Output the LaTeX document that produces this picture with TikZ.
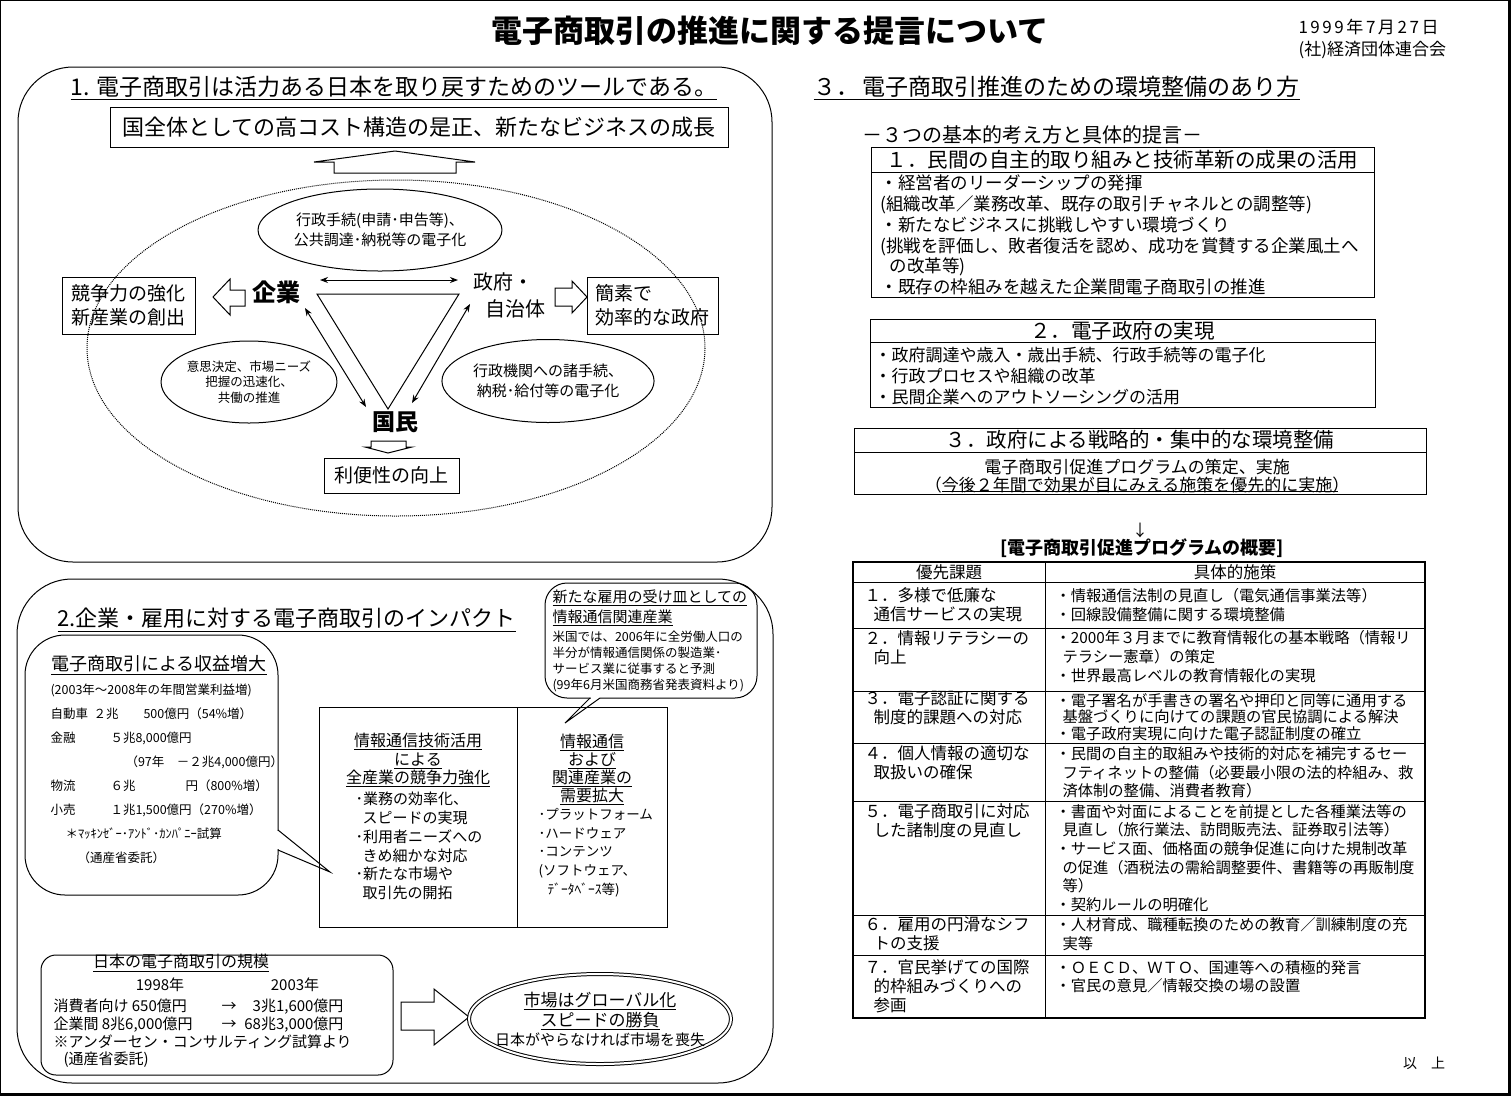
\documentclass[tikz,border=0pt]{standalone}
\usepackage{fontspec}
\setmainfont{Noto Sans CJK JP}
\usetikzlibrary{arrows.meta}
\usetikzlibrary{shapes.geometric}
\newcommand{\fsz}[2]{\fontsize{#1}{#2}\selectfont}
\newsavebox{\ulbox}
\newcommand{\ulin}[1]{\sbox{\ulbox}{#1}\rlap{\raisebox{-0.22em}{\rule{\wd\ulbox}{1pt}}}\usebox{\ulbox}}

\begin{document}
\begin{tikzpicture}[x=1pt, y=-1pt, line width=1pt, >={Stealth[length=8pt, width=6pt]},
    lbl/.style={inner sep=0pt, align=left},
    clbl/.style={inner sep=0pt, align=center},
    boxed/.style={draw, inner sep=0pt},
    oval/.style={ellipse, draw, inner sep=0pt, align=center},
    blockarrow/.style={draw, fill=white, line join=miter},
    lcell/.style={lbl, anchor=west, font=\fsz{16.5}{19}},
    rcell/.style={lbl, anchor=west, font=\fsz{15.3}{18.6}}]

    % Page frame
    \useasboundingbox (0,0) rectangle (1511,1096);
    \draw (0.5,0.5) rectangle (1508,1093);
    \fill (1508,0) rectangle (1511,1096);
    \fill (0,1093) rectangle (1511,1096);

    % Title and date
    \node[lbl, font=\fsz{31}{36}\bfseries] (title) at (770,31) {電子商取引の推進に関する提言について};
    \node[lbl, anchor=west, font=\fsz{17}{22}] (date) at (1298,39) {{\addfontfeature{LetterSpace=15}1999年7月27日}\\(社)経済団体連合会};

    % Section 1
    \draw[rounded corners=55pt] (18,67) rectangle (772,562);
    \node[lbl, anchor=west, font=\fsz{23}{28}] (h1) at (70,88) {\ulin{1. 電子商取引は活力ある日本を取り戻すためのツールである。}};
    \node[boxed, minimum width=618pt, minimum height=40pt, font=\fsz{22}{26}] (goal) at (419,127) {国全体としての高コスト構造の是正、新たなビジネスの成長};
    \draw[blockarrow] (334,173) -- (334,162) -- (314,162) -- (395,151) -- (475,162) -- (456,162) -- (456,173) -- cycle;

    \draw[densely dotted] (396,348) ellipse [x radius=309, y radius=168];
    \node[oval, minimum width=200pt, minimum height=82pt, font=\fsz{15}{20}] (proc) at (380,230) {行政手続(申請･申告等)、\\公共調達･納税等の電子化};

    \node[lbl, font=\fsz{24}{28}\bfseries] (corp) at (276,292) {企業};
    \node[lbl, anchor=west, font=\fsz{20}{27}] (gov) at (473,295) {政府・\\\hspace*{12pt}自治体};
    \node[lbl, font=\fsz{23}{28}\bfseries] (ppl) at (395,422) {国民};

    \draw (317,294) -- (459,294) -- (388,409) -- cycle;
    \coordinate (corpR) at (320,280);
    \coordinate (govL) at (458,280);
    \coordinate (corpB) at (305,308);
    \coordinate (pplL) at (366,407);
    \coordinate (govB) at (470,304);
    \coordinate (pplR) at (412,403);
    \draw[<->] (corpR) -- (govL);
    \draw[<->] (corpB) -- (pplL);
    \draw[<->] (govB) -- (pplR);

    \draw[blockarrow] (371,441) -- (406,441) -- (406,447) -- (412,447) -- (388,453) -- (365,447) -- (371,447) -- cycle;
    \node[boxed, minimum width=135pt, minimum height=35pt, font=\fsz{19}{23}] (conv) at (391.5,475.5) {利便性の向上};

    \node[boxed, minimum width=133pt, minimum height=57pt, font=\fsz{19}{24}, align=center] (comp) at (128.5,305.5) {競争力の強化\\新産業の創出};
    \draw[blockarrow] (245,290) -- (230,290) -- (230,279) -- (213,297) -- (230,315) -- (230,306) -- (245,306) -- cycle;
    \draw[blockarrow] (555,288) -- (572,288) -- (572,281) -- (587,297) -- (572,313) -- (572,306) -- (555,306) -- cycle;
    \node[boxed, minimum width=131pt, minimum height=57pt, text width=114pt, align=left, font=\fsz{19}{24}] (lean) at (652.5,305.5) {簡素で\\効率的な政府};

    \node[oval, minimum width=168pt, minimum height=82pt, font=\fsz{12.5}{15.5}] (speed) at (249,382) {意思決定、市場ニーズ\\把握の迅速化、\\共働の推進};
    \node[oval, minimum width=183pt, minimum height=83pt, font=\fsz{15}{20}] (admin) at (548,381) {行政機関への諸手続、\\納税･給付等の電子化};

    % Section 2
    \draw[rounded corners=55pt] (17,579) rectangle (773,1083);
    \node[lbl, anchor=west, font=\fsz{22}{26}] (h2) at (57,620) {\ulin{2.企業・雇用に対する電子商取引のインパクト}};

    % profit bubble
    \draw[rounded corners=40pt] (25,635) rectangle (278,895);
    \fill[white] (276,831) rectangle (280,849);
    \coordinate (gainTip) at (330,872);
    \draw (278,830) -- (gainTip) -- (278,850);
    \node[lbl, font=\fsz{18}{22}] (gainhd) at (159,665) {\ulin{電子商取引による収益増大}};
    \node[lbl, anchor=west, font=\fsz{12.5}{24}] (gaintxt) at (50,774) {(2003年～2008年の年間営業利益増)\\
        \makebox[43pt][l]{自動車}\makebox[50pt][l]{２兆}500億円（54\%増）\\
        \makebox[60pt][l]{金融}５兆8,000億円\\
        \hspace*{75pt}（97年　－２兆4,000億円）\\
        \makebox[60pt][l]{物流}\makebox[75pt][l]{６兆}円（800\%増）\\
        \makebox[60pt][l]{小売}１兆1,500億円（270\%増）\\
        \hspace*{15pt}＊ﾏｯｷﾝｾﾞｰ･ｱﾝﾄﾞ･ｶﾝﾊﾟﾆｰ試算\\
        \hspace*{27pt}（通産省委託）};

    % ICT box
    \node[boxed, minimum width=348pt, minimum height=220pt] (ict) at (493,817) {};
    \draw (517,707) -- (517,927);
    \node[clbl, font=\fsz{16}{18.5}] (icthd) at (418,760.5) {\ulin{情報通信技術活用}\\\ulin{による}\\\ulin{全産業の競争力強化}};
    \node[lbl, anchor=west, font=\fsz{15}{18.8}] (ictlist) at (355,846) {･業務の効率化、\\\hspace*{7pt}スピードの実現\\･利用者ニーズへの\\\hspace*{7pt}きめ細かな対応\\･新たな市場や\\\hspace*{7pt}取引先の開拓};
    \node[clbl, font=\fsz{16}{18.3}] (demhd) at (592,769.5) {\ulin{情報通信}\\\ulin{および}\\\ulin{関連産業の}\\\ulin{需要拡大}};
    \node[lbl, anchor=west, font=\fsz{13.5}{18.8}] (demlist) at (538,852.5) {･プラットフォーム\\･ハードウェア\\･コンテンツ\\(ソフトウェア、\\\hspace*{9pt}ﾃﾞｰﾀﾍﾞｰｽ等)};

    % jobs bubble
    \draw[rounded corners=22pt] (545,583) rectangle (757,698);
    \fill[white] (590.5,696.5) rectangle (599.5,699.5);
    \coordinate (jobTip) at (565,723);
    \draw (590,698) -- (jobTip) -- (600,698);
    \node[lbl, anchor=west, font=\fsz{15}{20}] (jobhd) at (552,608) {\ulin{新たな雇用の受け皿としての}\\\ulin{情報通信関連産業}};
    \node[lbl, anchor=west, font=\fsz{12.5}{16}] (jobtxt) at (552,661) {米国では、2006年に全労働人口の\\半分が情報通信関係の製造業･\\サービス業に従事すると予測\\(99年6月米国商務省発表資料より)};

    % market size
    \node[boxed, rounded corners=15pt, minimum width=352pt, minimum height=120pt] (ecsize) at (217,1015) {};
    \node[lbl, font=\fsz{16}{20}] (ecsizehd) at (181,963) {\ulin{日本の電子商取引の規模}};
    \node[lbl, font=\fsz{15}{18}] (y98) at (160,985) {1998年};
    \node[lbl, font=\fsz{15}{18}] (y03) at (295,985) {2003年};
    \node[lbl, anchor=west, font=\fsz{15}{17.7}] (ecsizetxt) at (53,1033.5) {\makebox[168pt][l]{消費者向け 650億円}→\makebox[107pt][r]{3兆1,600億円}\\
        \makebox[168pt][l]{企業間 8兆6,000億円}→\makebox[107pt][r]{68兆3,000億円}\\
        ※アンダーセン・コンサルティング試算より\\
        \hspace*{10pt}(通産省委託)};
    \draw[blockarrow] (401,1002) -- (434,1002) -- (434,989) -- (469,1017) -- (434,1045) -- (434,1030) -- (401,1030) -- cycle;
    \node[oval, double, double distance=2pt, minimum width=262pt, minimum height=90pt] (global) at (600,1019) {};
    \node[clbl, font=\fsz{17}{20.5}] (globaltxt) at (600,1011) {\ulin{市場はグローバル化}\\\ulin{スピードの勝負}};
    \node[clbl, font=\fsz{15}{18}] (losstxt) at (600,1040) {日本がやらなければ市場を喪失};

    % Section 3
    \node[lbl, anchor=west, font=\fsz{23}{28}] (h3) at (813,88) {\ulin{３．\hspace{3pt}電子商取引推進のための環境整備のあり方}};
    \node[lbl, anchor=west, font=\fsz{20}{24}] (sub3) at (862,135) {－３つの基本的考え方と具体的提言－};

    \node[boxed, minimum width=503pt, minimum height=150pt] (p1) at (1122.5,222) {};
    \draw (871,172) -- (1374,172);
    \node[lbl, font=\fsz{20.5}{24}] (p1hd) at (1122.5,160) {１．民間の自主的取り組みと技術革新の成果の活用};
    \node[lbl, anchor=west, font=\fsz{17.5}{20.8}] (p1txt) at (880,235) {・経営者のリーダーシップの発揮\\(組織改革／業務改革、既存の取引チャネルとの調整等)\\・新たなビジネスに挑戦しやすい環境づくり\\(挑戦を評価し、敗者復活を認め、成功を賞賛する企業風土へ\\\hspace*{9pt}の改革等)\\・既存の枠組みを越えた企業間電子商取引の推進};

    \node[boxed, minimum width=505pt, minimum height=88pt] (p2) at (1122.5,363) {};
    \draw (870,342) -- (1375,342);
    \node[lbl, font=\fsz{20.5}{24}] (p2hd) at (1122.5,331) {２．電子政府の実現};
    \node[lbl, anchor=west, font=\fsz{17}{21}] (p2txt) at (874,376) {・政府調達や歳入・歳出手続、行政手続等の電子化\\・行政プロセスや組織の改革\\・民間企業へのアウトソーシングの活用};

    \node[boxed, minimum width=572pt, minimum height=66pt] (p3) at (1140,461) {};
    \draw (854,452) -- (1426,452);
    \node[lbl, font=\fsz{20.5}{24}] (p3hd) at (1140,440) {３．政府による戦略的・集中的な環境整備};
    \node[clbl, font=\fsz{17}{18}] (p3txt) at (1137,476) {電子商取引促進プログラムの策定、実施\\（今後２年間で効果が目にみえる施策を優先的に実施）};
    \draw (942,491.5) -- (1338,491.5);

    \node[lbl, font=\fsz{16}{18}] (down) at (1140,530) {↓};
    \node[lbl, font=\fsz{18}{22}\bfseries] (prog) at (1142,548) {[電子商取引促進プログラムの概要]};

    % Program table
    \draw[line width=2pt] (853,562) rectangle (1425,1018);
    \draw (1045,562) -- (1045,1018);
    \foreach \ry in {582,628,691,743,801,915,955}
        \draw (853,\ry) -- (1425,\ry);
    \node[lbl, font=\fsz{16.5}{20}] (colL) at (949,572) {優先課題};
    \node[lbl, font=\fsz{16.5}{20}] (colR) at (1235,572) {具体的施策};

    \node[lcell] (r1l) at (864,605) {１．多様で低廉な\\\hspace*{9pt}通信サービスの実現};
    \node[rcell] (r1r) at (1055,605) {・情報通信法制の見直し（電気通信事業法等）\\・回線設備整備に関する環境整備};
    \node[lcell] (r2l) at (864,647.5) {２．情報リテラシーの\\\hspace*{9pt}向上};
    \node[rcell] (r2r) at (1055,656.5) {・2000年３月までに教育情報化の基本戦略（情報リ\\\hspace*{7pt}テラシー憲章）の策定\\・世界最高レベルの教育情報化の実現};
    \node[lcell] (r3l) at (864,708) {３．電子認証に関する\\\hspace*{9pt}制度的課題への対応};
    \node[rcell, font=\fsz{15.3}{16.8}] (r3r) at (1055,717) {・電子署名が手書きの署名や押印と同等に通用する\\\hspace*{7pt}基盤づくりに向けての課題の官民協調による解決\\・電子政府実現に向けた電子認証制度の確立};
    \node[lcell] (r4l) at (864,763) {４．個人情報の適切な\\\hspace*{9pt}取扱いの確保};
    \node[rcell] (r4r) at (1055,772.5) {・民間の自主的取組みや技術的対応を補完するセー\\\hspace*{7pt}フティネットの整備（必要最小限の法的枠組み、救\\\hspace*{7pt}済体制の整備、消費者教育）};
    \node[lcell] (r5l) at (864,821) {５．電子商取引に対応\\\hspace*{9pt}した諸制度の見直し};
    \node[rcell] (r5r) at (1055,858) {・書面や対面によることを前提とした各種業法等の\\\hspace*{7pt}見直し（旅行業法、訪問販売法、証券取引法等）\\・サービス面、価格面の競争促進に向けた規制改革\\\hspace*{7pt}の促進（酒税法の需給調整要件、書籍等の再販制度\\\hspace*{7pt}等）\\・契約ルールの明確化};
    \node[lcell] (r6l) at (864,934) {６．雇用の円滑なシフ\\\hspace*{9pt}トの支援};
    \node[rcell] (r6r) at (1055,934) {・人材育成、職種転換のための教育／訓練制度の充\\\hspace*{7pt}実等};
    \node[lcell] (r7l) at (864,986) {７．官民挙げての国際\\\hspace*{9pt}的枠組みづくりへの\\\hspace*{9pt}参画};
    \node[rcell] (r7r) at (1055,976.5) {・ＯＥＣＤ、ＷＴＯ、国連等への積極的発言\\・官民の意見／情報交換の場の設置};

    \node[lbl, font=\fsz{14}{18}] (closing) at (1424,1063) {以\hspace{14pt}上};
\end{tikzpicture}
\end{document}
